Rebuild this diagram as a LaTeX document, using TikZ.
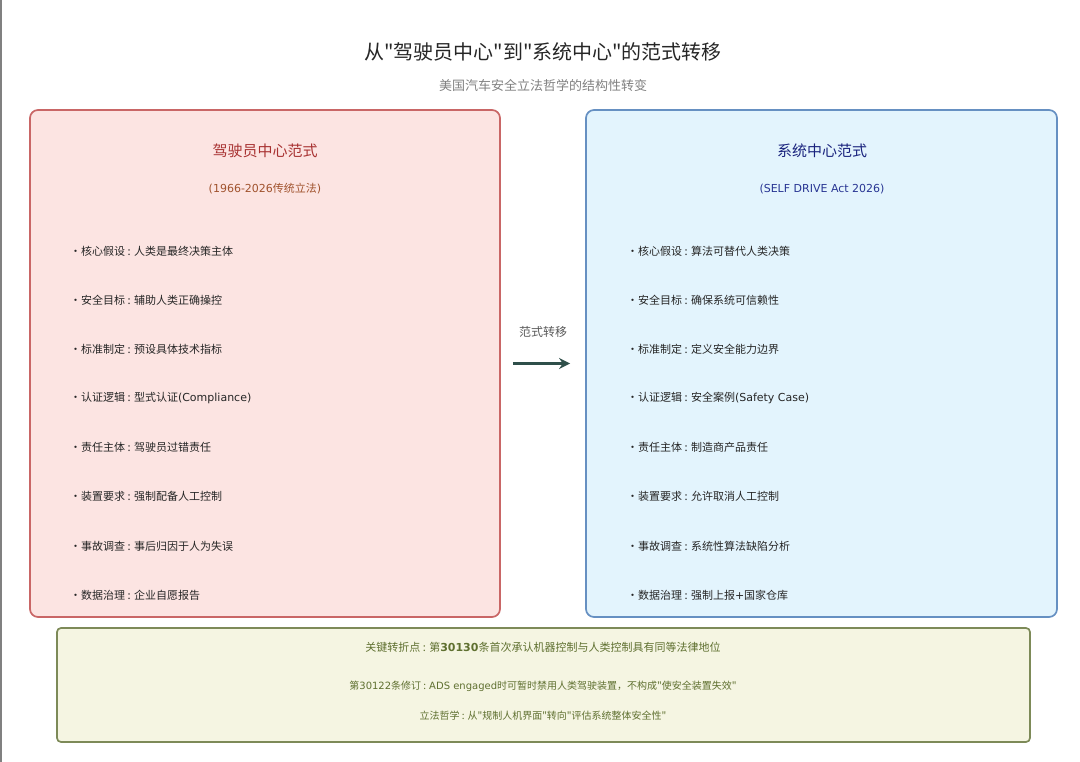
\documentclass[tikz,border=0pt]{standalone}
\usepackage{fontspec}
\setmainfont{Noto Sans CJK SC}[Ligatures=TeXOff]
\newfontfamily\latim{DejaVu Sans}[Ligatures=TeXOff]
\newcommand\lat[1]{{\latim #1}}
\usetikzlibrary{arrows.meta}
\definecolor{fundoEsq}{HTML}{FCE4E2}
\definecolor{bordaEsq}{HTML}{C96666}
\definecolor{fundoDir}{HTML}{E3F4FD}
\definecolor{bordaDir}{HTML}{6690C2}
\definecolor{fundoBase}{HTML}{F5F5E2}
\definecolor{bordaBase}{HTML}{7D8A58}
\definecolor{textoBase}{HTML}{5F7030}
\definecolor{setaCor}{HTML}{2F4F4A}
\definecolor{tituloEsq}{HTML}{A83232}
\definecolor{subEsq}{HTML}{A0522D}
\definecolor{tituloDir}{HTML}{1A237E}
\definecolor{subDir}{HTML}{283593}
\begin{document}
\begin{tikzpicture}[x=1pt,y=-1pt,
  caixa/.style={draw,rounded corners=8pt,line width=1.7pt,minimum height=507pt,minimum width=470pt},
  rotulo/.style={inner sep=0pt,align=center},
  item/.style={inner sep=0pt,anchor=west,font=\fontsize{11}{13}\selectfont,text=black!85},
  seta/.style={-{Stealth[length=11pt,width=11pt]},line width=3pt,setaCor}]
  \useasboundingbox (0,0) rectangle (1080,762);
  \draw[gray,line width=1.5pt] (0.75,0)--(0.75,762);
  % titulo
  \node[rotulo,font=\fontsize{20}{24}\selectfont,text=black!85] (titulo) at (543,52) {从"驾驶员中心"到"系统中心"的范式转移};
  \node[rotulo,font=\fontsize{13}{15}\selectfont,text=black!50] (subtitulo) at (543,86) {美国汽车安全立法哲学的结构性转变};
  % paradigmas
  \node[caixa,fill=fundoEsq,draw=bordaEsq] (esq) at (265,363.5) {};
  \node[caixa,fill=fundoDir,draw=bordaDir,minimum width=471pt] (dir) at (821.5,363.5) {};
  \node[rotulo,font=\fontsize{15}{18}\selectfont,text=tituloEsq] (tesq) at (265,151) {驾驶员中心范式};
  \node[rotulo,font=\fontsize{11}{13}\selectfont,text=subEsq] (sesq) at (265,189) {\lat{(1966-2026}传统立法\lat{)}};
  \node[rotulo,font=\fontsize{15}{18}\selectfont,text=tituloDir] (tdir) at (822,151) {系统中心范式};
  \node[rotulo,font=\fontsize{11}{13}\latim,text=subDir] (sdir) at (822,189) {(SELF DRIVE Act 2026)};
  \foreach \t [count=\k] in {{核心假设 : 人类是最终决策主体},{安全目标 : 辅助人类正确操控},{标准制定 : 预设具体技术指标},
    {认证逻辑 : 型式认证\lat{(Compliance)}},{责任主体 : 驾驶员过错责任},{装置要求 : 强制配备人工控制},
    {事故调查 : 事后归因于人为失误},{数据治理 : 企业自愿报告}}
    \node[item] (e\k) at (70,{251+49.15*(\k-1)}) {•\t};
  \foreach \t [count=\k] in {{核心假设 : 算法可替代人类决策},{安全目标 : 确保系统可信赖性},{标准制定 : 定义安全能力边界},
    {认证逻辑 : 安全案例\lat{(Safety Case)}},{责任主体 : 制造商产品责任},{装置要求 : 允许取消人工控制},
    {事故调查 : 系统性算法缺陷分析},{数据治理 : 强制上报\lat{+}国家仓库}}
    \node[item] (d\k) at (627,{251+49.15*(\k-1)}) {•\t};
  % transicao
  \draw[seta,shorten <=12pt,shorten >=15pt] (esq)--(dir);
  \node[rotulo,font=\fontsize{12}{14}\selectfont,text=black!65] (trans) at (543,332) {范式转移};
  % ponto de virada
  \node[draw=bordaBase,fill=fundoBase,rounded corners=4pt,line width=1.7pt,minimum width=973pt,minimum height=114pt] (base) at (543.5,685) {};
  \node[rotulo,font=\fontsize{11}{13}\selectfont,text=textoBase] (b1) at (543,647) {关键转折点 : 第\lat{\bfseries 30130}条首次承认机器控制与人类控制具有同等法律地位};
  \node[rotulo,font=\fontsize{10}{12}\selectfont,text=textoBase] (b2) at (543,686) {第\lat{30122}条修订 : \lat{ADS engaged}时可暂时禁用人类驾驶装置，不构成"使安全装置失效"};
  \node[rotulo,font=\fontsize{10}{12}\selectfont,text=textoBase] (b3) at (543,716) {立法哲学 : 从"规制人机界面"转向"评估系统整体安全性"};
\end{tikzpicture}
\end{document}
